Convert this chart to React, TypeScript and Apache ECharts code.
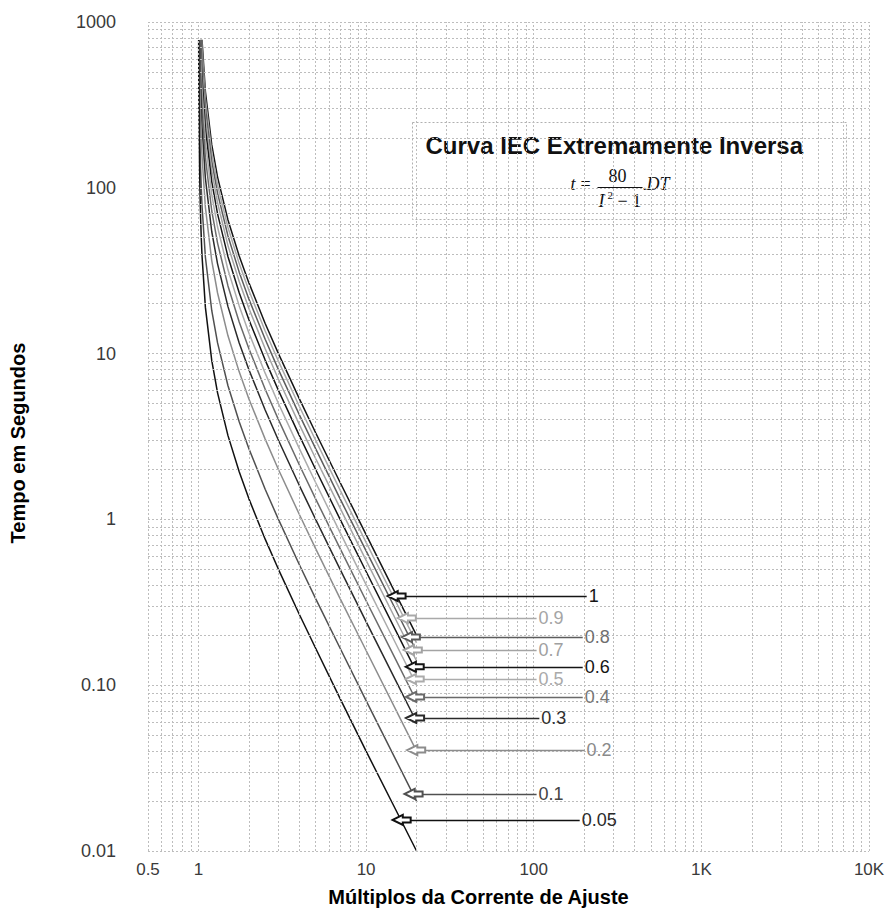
import React, { useEffect, useRef } from 'react';
import * as echarts from 'echarts';

// ---- axis settings & tick labels ----
const xRange = [0.5, 10000];
const yRange = [0.01, 1000];
const xTickValues = [0.5, 1, 10, 100, 1000, 10000];
const xTickTexts = ['0.5', '1', '10', '100', '1K', '10K'];
const yTickValues = [0.01, 0.1, 1, 10, 100, 1000];
const yTickTexts = ['0.01', '0.10', '1', '10', '100', '1000'];

// grid line positions (log paper: 1..9 per decade)
const xGridValues = [
  0.5, 0.6, 0.7, 0.8, 0.9,
  1, 2, 3, 4, 5, 6, 7, 8, 9,
  10, 20, 30, 40, 50, 60, 70, 80, 90,
  100, 200, 300, 400, 500, 600, 700, 800, 900,
  1000, 2000, 3000, 4000, 5000, 6000, 7000, 8000, 9000, 10000,
];
const yGridValues = [
  0.01, 0.02, 0.03, 0.04, 0.05, 0.06, 0.07, 0.08, 0.09,
  0.1, 0.2, 0.3, 0.4, 0.5, 0.6, 0.7, 0.8, 0.9,
  1, 2, 3, 4, 5, 6, 7, 8, 9,
  10, 20, 30, 40, 50, 60, 70, 80, 90,
  100, 200, 300, 400, 500, 600, 700, 800, 900, 1000,
];

// ---- curves (DT): [multiple of current, time s] ----
const dtNames = ['1', '0.9', '0.8', '0.7', '0.6', '0.5', '0.4', '0.3', '0.2', '0.1', '0.05'];

const curve_1_0 = [[1.05, 780], [1.1, 381], [1.2, 182], [1.3, 116], [1.5, 64], [1.75, 38.8], [2, 26.7], [2.5, 15.2], [3, 10], [4, 5.33], [5, 3.33], [7, 1.67], [10, 0.81], [15, 0.357], [20, 0.2]];
const curve_0_9 = [[1.045, 780], [1.05, 702], [1.1, 343], [1.2, 164], [1.3, 104], [1.5, 57.6], [1.75, 34.9], [2, 24], [2.5, 13.7], [3, 9], [4, 4.8], [5, 3], [7, 1.5], [10, 0.727], [15, 0.321], [20, 0.18]];
const curve_0_8 = [[1.04, 780], [1.05, 624], [1.1, 305], [1.2, 145], [1.3, 92.8], [1.5, 51.2], [1.75, 31], [2, 21.3], [2.5, 12.2], [3, 8], [4, 4.27], [5, 2.67], [7, 1.33], [10, 0.646], [15, 0.286], [20, 0.16]];
const curve_0_7 = [[1.035, 780], [1.04, 686], [1.05, 546], [1.1, 267], [1.2, 127], [1.3, 81.2], [1.5, 44.8], [1.75, 27.2], [2, 18.7], [2.5, 10.7], [3, 7], [4, 3.73], [5, 2.33], [7, 1.17], [10, 0.566], [15, 0.25], [20, 0.14]];
const curve_0_6 = [[1.03, 780], [1.04, 588], [1.05, 468], [1.1, 229], [1.2, 109], [1.3, 69.6], [1.5, 38.4], [1.75, 23.3], [2, 16], [2.5, 9.14], [3, 6], [4, 3.2], [5, 2], [7, 1], [10, 0.485], [15, 0.214], [20, 0.12]];
const curve_0_5 = [[1.025, 780], [1.03, 657], [1.04, 490], [1.05, 390], [1.1, 190], [1.2, 90.9], [1.3, 58], [1.5, 32], [1.75, 19.4], [2, 13.3], [2.5, 7.62], [3, 5], [4, 2.67], [5, 1.67], [7, 0.833], [10, 0.404], [15, 0.179], [20, 0.1]];
const curve_0_4 = [[1.02, 780], [1.03, 525], [1.04, 392], [1.05, 312], [1.1, 152], [1.2, 72.7], [1.3, 46.4], [1.5, 25.6], [1.75, 15.5], [2, 10.7], [2.5, 6.1], [3, 4], [4, 2.13], [5, 1.33], [7, 0.667], [10, 0.323], [15, 0.143], [20, 0.08]];
const curve_0_3 = [[1.015, 780], [1.02, 594], [1.03, 394], [1.04, 294], [1.05, 234], [1.1, 114], [1.2, 54.5], [1.3, 34.8], [1.5, 19.2], [1.75, 11.6], [2, 8], [2.5, 4.57], [3, 3], [4, 1.6], [5, 1], [7, 0.5], [10, 0.242], [15, 0.107], [20, 0.06]];
const curve_0_2 = [[1.01, 780], [1.02, 396], [1.03, 263], [1.04, 196], [1.05, 156], [1.1, 76.2], [1.2, 36.4], [1.3, 23.2], [1.5, 12.8], [1.75, 7.76], [2, 5.33], [2.5, 3.05], [3, 2], [4, 1.07], [5, 0.667], [7, 0.333], [10, 0.162], [15, 0.0714], [20, 0.04]];
const curve_0_1 = [[1.005, 780], [1.01, 398], [1.02, 198], [1.03, 131], [1.04, 98], [1.05, 78], [1.1, 38.1], [1.2, 18.2], [1.3, 11.6], [1.5, 6.4], [1.75, 3.88], [2, 2.67], [2.5, 1.52], [3, 1], [4, 0.533], [5, 0.333], [7, 0.167], [10, 0.0808], [15, 0.0357], [20, 0.02]];
const curve_0_05 = [[1.0026, 780], [1.005, 400], [1.01, 199], [1.02, 99], [1.03, 65.7], [1.04, 49], [1.05, 39], [1.1, 19], [1.2, 9.1], [1.3, 5.8], [1.5, 3.2], [1.75, 1.94], [2, 1.33], [2.5, 0.76], [3, 0.5], [4, 0.267], [5, 0.167], [7, 0.083], [10, 0.04], [15, 0.0178], [20, 0.01]];

const curves = [curve_1_0, curve_0_9, curve_0_8, curve_0_7, curve_0_6, curve_0_5, curve_0_4, curve_0_3, curve_0_2, curve_0_1, curve_0_05];

// arrow tip points on each curve and leader line end (x) where the label sits
const arrowTipX = [15.2, 17.5, 18.5, 19, 19.5, 19.5, 19.6, 19.6, 19.9, 19.2, 16.3];
const arrowTipY = [0.345, 0.254, 0.195, 0.163, 0.129, 0.109, 0.085, 0.0634, 0.0406, 0.0221, 0.0154];
const leaderEndX = [207, 104, 196, 104, 196, 104, 196, 108, 201, 104, 188];

// styles
const lineColors = ['#151515', '#a9a9a9', '#5c5c5c', '#a3a3a3', '#151515', '#ababab', '#6a6a6a', '#2a2a2a', '#8c8c8c', '#505050', '#111111'];
const labelColors = ['#151515', '#a5a5a5', '#6e6e6e', '#a0a0a0', '#151515', '#aaaaaa', '#777777', '#2e2e2e', '#8a8a8a', '#444444', '#2a2a2a'];

const SANS = '"Liberation Sans", Arial, Helvetica, sans-serif';
const SERIF = '"Liberation Serif", "Times New Roman", serif';
const ARROW = 'emptypath://M5,0 L10,9 L7.5,9 L7.5,16 L2.5,16 L2.5,9 L0,9 Z';

function pick(values: number[], texts: string[], v: number) {
  for (let i = 0; i < values.length; i++) {
    if (Math.abs(Math.log10(v) - Math.log10(values[i])) < 0.01) return texts[i];
  }
  return '';
}

export default function App() {
  const ref = useRef<HTMLDivElement>(null);

  useEffect(() => {
    if (!ref.current) return;
    const chart = echarts.init(ref.current, undefined, { renderer: 'svg' });

    const gridStyle = { color: '#bdbdbd', width: 1, type: [2, 2] as any };

    const series: any[] = [
      {
        type: 'line',
        name: 'grid',
        data: [],
        silent: true,
        z: 1,
        markLine: {
          silent: true,
          symbol: 'none',
          animation: false,
          label: { show: false },
          lineStyle: gridStyle,
          emphasis: { disabled: true },
          data: [
            ...xGridValues.map((v) => ({ xAxis: v })),
            ...yGridValues.map((v) => ({ yAxis: v })),
          ],
        },
      },
    ];

    curves.forEach((c, i) => {
      series.push({
        type: 'line',
        name: dtNames[i],
        data: c,
        showSymbol: false,
        symbol: 'none',
        silent: true,
        z: 3,
        lineStyle: { color: lineColors[i], width: 1.5 },
        markLine: {
          silent: true,
          animation: false,
          symbol: [ARROW, 'none'],
          symbolSize: [10, 18],
          symbolOffset: [0, 8],
          lineStyle: { color: lineColors[i], width: 1.3, type: 'solid' },
          label: {
            show: true,
            position: 'end',
            distance: 2,
            formatter: dtNames[i],
            color: labelColors[i],
            fontSize: 18,
            fontFamily: SANS,
          },
          emphasis: { disabled: true },
          data: [[{ coord: [arrowTipX[i], arrowTipY[i]] }, { coord: [leaderEndX[i], arrowTipY[i]] }]],
        },
      });
    });

    chart.setOption({
      animation: false,
      backgroundColor: '#ffffff',
      grid: { left: 148, right: 22, top: 22, bottom: 59, containLabel: false, outerBoundsMode: 'none' },
      xAxis: {
        type: 'log',
        logBase: 10,
        min: xRange[0],
        max: xRange[1],
        name: 'Múltiplos da Corrente de Ajuste',
        nameLocation: 'middle',
        nameGap: 36,
        nameTextStyle: { fontSize: 20, fontWeight: 'bold', color: '#000', fontFamily: SANS, padding: [0, 60, 0, 0] },
        axisLine: { show: false },
        axisTick: { show: false },
        splitLine: { show: false },
        minorSplitLine: { show: false },
        axisLabel: {
          fontSize: 17,
          color: '#3a3a3a',
          fontFamily: SANS,
          margin: 10,
          showMinLabel: true,
          showMaxLabel: true,
          formatter: (v: number) => pick(xTickValues, xTickTexts, v),
        },
      },
      yAxis: {
        type: 'log',
        logBase: 10,
        min: yRange[0],
        max: yRange[1],
        name: 'Tempo em Segundos',
        nameLocation: 'middle',
        nameGap: 120,
        nameTextStyle: { fontSize: 20, fontWeight: 'bold', color: '#000', fontFamily: SANS, padding: [0, 13, 0, 0] },
        axisLine: { show: false },
        axisTick: { show: false },
        splitLine: { show: false },
        axisLabel: {
          fontSize: 18,
          color: '#3a3a3a',
          fontFamily: SANS,
          margin: 32,
          formatter: (v: number) => pick(yTickValues, yTickTexts, v),
        },
      },
      graphic: [
        {
          type: 'group',
          left: 412,
          top: 122,
          z: 100,
          children: [
            {
              type: 'rect',
              shape: { x: 0, y: 0, width: 434, height: 97 },
              style: { fill: '#ffffff', stroke: '#b0b0b0', lineWidth: 1, lineDash: [2, 2] },
            },
            {
              type: 'text',
              x: 13,
              y: 23,
              style: {
                text: 'Curva IEC Extremamente Inversa',
                fontSize: 24,
                fontWeight: 'bold',
                fontFamily: SANS,
                fill: '#111',
                verticalAlign: 'middle',
                align: 'left',
              },
            },
            {
              type: 'text',
              x: 158,
              y: 61,
              style: { text: 't', fontSize: 18, fontStyle: 'italic', fontFamily: SERIF, fill: '#111', verticalAlign: 'middle' },
            },
            {
              type: 'text',
              x: 168,
              y: 61,
              style: { text: '=', fontSize: 18, fontFamily: SERIF, fill: '#111', verticalAlign: 'middle' },
            },
            {
              type: 'text',
              x: 205,
              y: 53,
              style: { text: '80', fontSize: 18, fontFamily: SERIF, fill: '#111', align: 'center', verticalAlign: 'middle' },
            },
            {
              type: 'line',
              shape: { x1: 185, y1: 65, x2: 230, y2: 65 },
              style: { stroke: '#111', lineWidth: 1 },
            },
            {
              type: 'text',
              x: 186,
              y: 78,
              style: { text: 'I', fontSize: 18, fontStyle: 'italic', fontFamily: SERIF, fill: '#111', verticalAlign: 'middle' },
            },
            {
              type: 'text',
              x: 195,
              y: 72,
              style: { text: '2', fontSize: 11, fontFamily: SERIF, fill: '#111', verticalAlign: 'middle' },
            },
            {
              type: 'text',
              x: 205,
              y: 78,
              style: { text: '− 1', fontSize: 18, fontFamily: SERIF, fill: '#111', verticalAlign: 'middle' },
            },
            {
              type: 'text',
              x: 230,
              y: 61,
              style: { text: '.', fontSize: 18, fontFamily: SERIF, fill: '#111', verticalAlign: 'middle' },
            },
            {
              type: 'text',
              x: 234,
              y: 61,
              style: { text: 'DT', fontSize: 18, fontStyle: 'italic', fontFamily: SERIF, fill: '#111', verticalAlign: 'middle' },
            },
          ],
        },
      ],
      series,
    });

    return () => chart.dispose();
  }, []);

  return (
    <div
      ref={ref}
      style={{ position: 'absolute', left: 0, top: 0, width: 891, height: 910, background: '#fff' }}
    />
  );
}
